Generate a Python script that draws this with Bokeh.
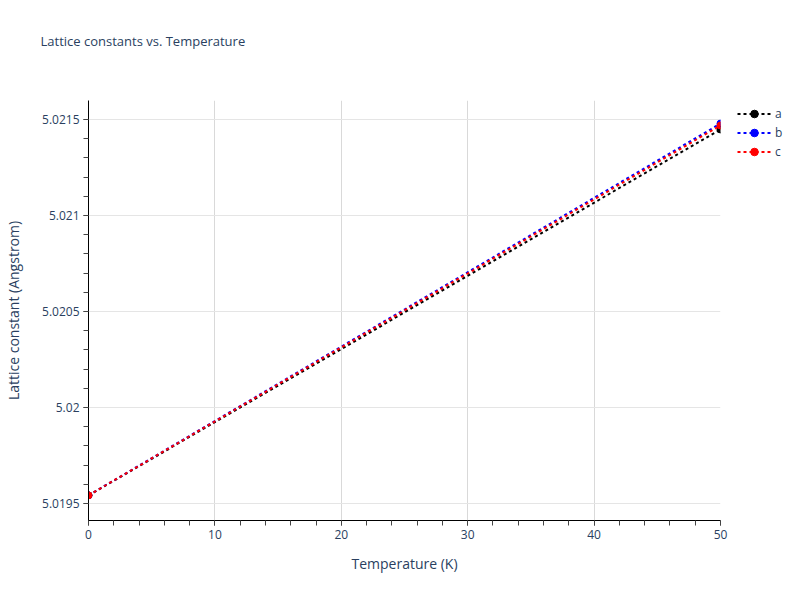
from bokeh.plotting import figure
from bokeh.models import FixedTicker, Legend, LegendItem, Range1d, Title
from bokeh.embed import file_html
from bokeh.resources import INLINE

temperature = [0, 50]
a_vals = [5.019542, 5.021448]
b_vals = [5.019542, 5.021479]
c_vals = [5.019542, 5.021469]
series_names = ["a", "b", "c"]
series_colors = ["black", "blue", "red"]

x_ticks = [0, 10, 20, 30, 40, 50]
x_minor = [i * 2 for i in range(26)]
y_ticks = [5.0195, 5.02, 5.0205, 5.021, 5.0215]
y_labels = ["5.0195", "5.02", "5.0205", "5.021", "5.0215"]
y_minor = [5.0194 + i * 0.0001 for i in range(23)]

FONT = "Open Sans"
TXT = "#2a3f5f"

p = figure(frame_width=632, frame_height=420, output_backend="svg", toolbar_location=None,
           x_range=Range1d(0, 50), y_range=Range1d(5.019411, 5.021599),
           min_border_left=88, min_border_right=72, min_border_top=100, min_border_bottom=70,
           title=None)
p.outline_line_color = None
p.background_fill_color = "white"
p.border_fill_color = "white"

xax = p.below[0]
yax = p.left[0]
for ax in (xax, yax):
    ax.axis_line_color = "black"
    ax.axis_line_width = 1
    ax.major_tick_line_color = "#444444"
    ax.minor_tick_line_color = "#444444"
    ax.major_tick_out = 5
    ax.major_tick_in = 0
    ax.minor_tick_out = 5
    ax.minor_tick_in = 0
    ax.major_label_text_font = FONT
    ax.major_label_text_font_size = "12px"
    ax.major_label_text_color = TXT
    ax.axis_label_text_font = FONT
    ax.axis_label_text_font_size = "14px"
    ax.axis_label_text_color = TXT
    ax.axis_label_text_font_style = "normal"

xax.ticker = FixedTicker(ticks=x_ticks, minor_ticks=x_minor)
yax.ticker = FixedTicker(ticks=y_ticks, minor_ticks=y_minor)
yax.major_label_overrides = {t: l for t, l in zip(y_ticks, y_labels)}
xax.axis_label = "Temperature (K)"
yax.axis_label = "Lattice constant (Angstrom)"
xax.axis_label_standoff = 12
yax.axis_label_standoff = 16
xax.major_label_standoff = 4
yax.major_label_standoff = 4

# trailing blank lines lift the title line away from the frame
main_title = Title(text="Lattice constants vs. Temperature\n\n", align="left", offset=-48,
                   standoff=30, text_font=FONT, text_font_size="13px",
                   text_font_style="normal", text_color=TXT)
p.add_layout(main_title, "above")

p.xgrid.grid_line_color = "#d9d9d9"
p.ygrid.grid_line_color = "#e5e5e5"
p.xgrid.grid_line_width = 1
p.ygrid.grid_line_width = 1

items = []
for name, vals, col in zip(series_names, [a_vals, b_vals, c_vals], series_colors):
    l = p.line(temperature, vals, line_color=col, line_width=2, line_dash="3 3")
    s = p.scatter(temperature, vals, marker="circle", size=7, fill_color=col, line_color=col)
    items.append(LegendItem(label=name, renderers=[l, s]))

legend = Legend(items=items, location=(17, 359), orientation="vertical",
                glyph_width=34, glyph_height=19, label_height=19, spacing=0,
                padding=0, margin=0, label_standoff=4,
                label_text_font=FONT, label_text_font_size="12px", label_text_color=TXT,
                border_line_color=None, background_fill_alpha=0)
p.add_layout(legend, "right")

open("out.html", "w").write(file_html(p, INLINE))
